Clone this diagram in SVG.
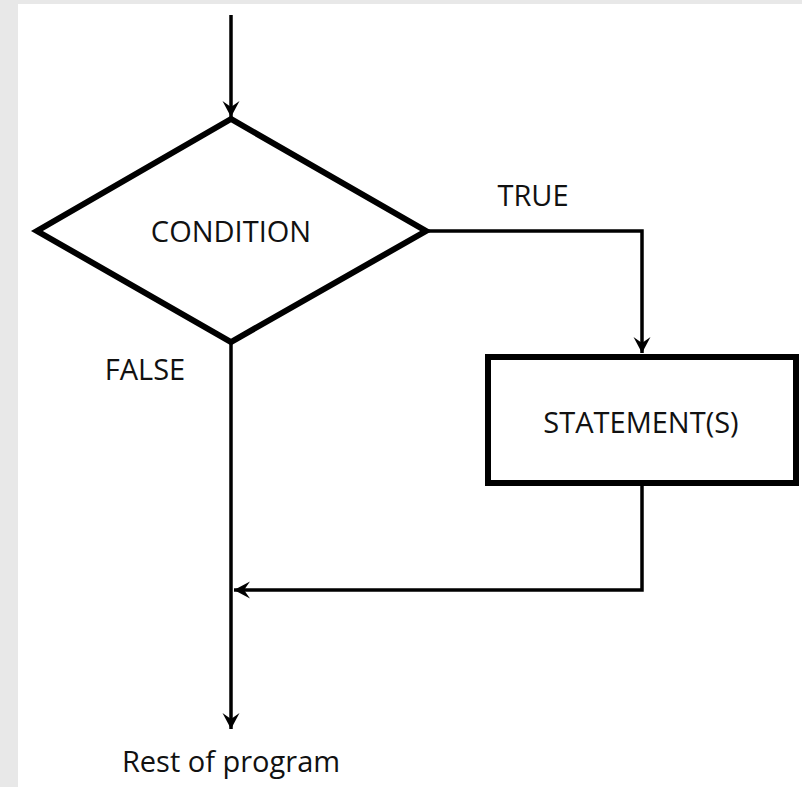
<svg xmlns="http://www.w3.org/2000/svg" width="802" height="787" viewBox="0 0 802 787">
  <style>
    .lbl { font-family: "Open Sans", "Liberation Sans", sans-serif; font-size: 29px; fill: #111; text-anchor: middle; }
    .shape { fill: #fff; stroke: #000; stroke-width: 6; stroke-linejoin: miter; }
    .conn { fill: none; stroke: #000; stroke-width: 3.5; }
  </style>
  <defs>
    <marker id="arr" markerUnits="userSpaceOnUse" markerWidth="20" markerHeight="20" viewBox="-18 -10 20 20" refX="0" refY="0" orient="auto">
      <path d="M0,0 L-16,-8.5 L-10,0 L-16,8.5 Z" fill="#000"/>
    </marker>
  </defs>
  <rect x="0" y="0" width="802" height="787" fill="#e8e8e8"/>
  <rect x="18" y="4" width="784" height="783" fill="#fff"/>

  <g id="connectors">
    <line class="conn" x1="231" y1="15" x2="231" y2="117" marker-end="url(#arr)"/>
    <polyline class="conn" points="426,231 642,231 642,353" marker-end="url(#arr)"/>
    <line class="conn" x1="231" y1="342" x2="231" y2="729" marker-end="url(#arr)"/>
    <polyline class="conn" points="642,485 642,590 234,590" marker-end="url(#arr)"/>
  </g>

  <g id="condition">
    <polygon class="shape" points="231,119 37,231 231,342 426,231"/>
    <text class="lbl" x="231" y="242">CONDITION</text>
  </g>

  <g id="statements">
    <rect class="shape" x="488" y="357" width="308" height="126"/>
    <text class="lbl" x="641" y="433">STATEMENT(S)</text>
  </g>

  <g id="labels">
    <text class="lbl" x="533" y="206">TRUE</text>
    <text class="lbl" x="145" y="380">FALSE</text>
    <text class="lbl" x="231" y="772">Rest of program</text>
  </g>
</svg>
